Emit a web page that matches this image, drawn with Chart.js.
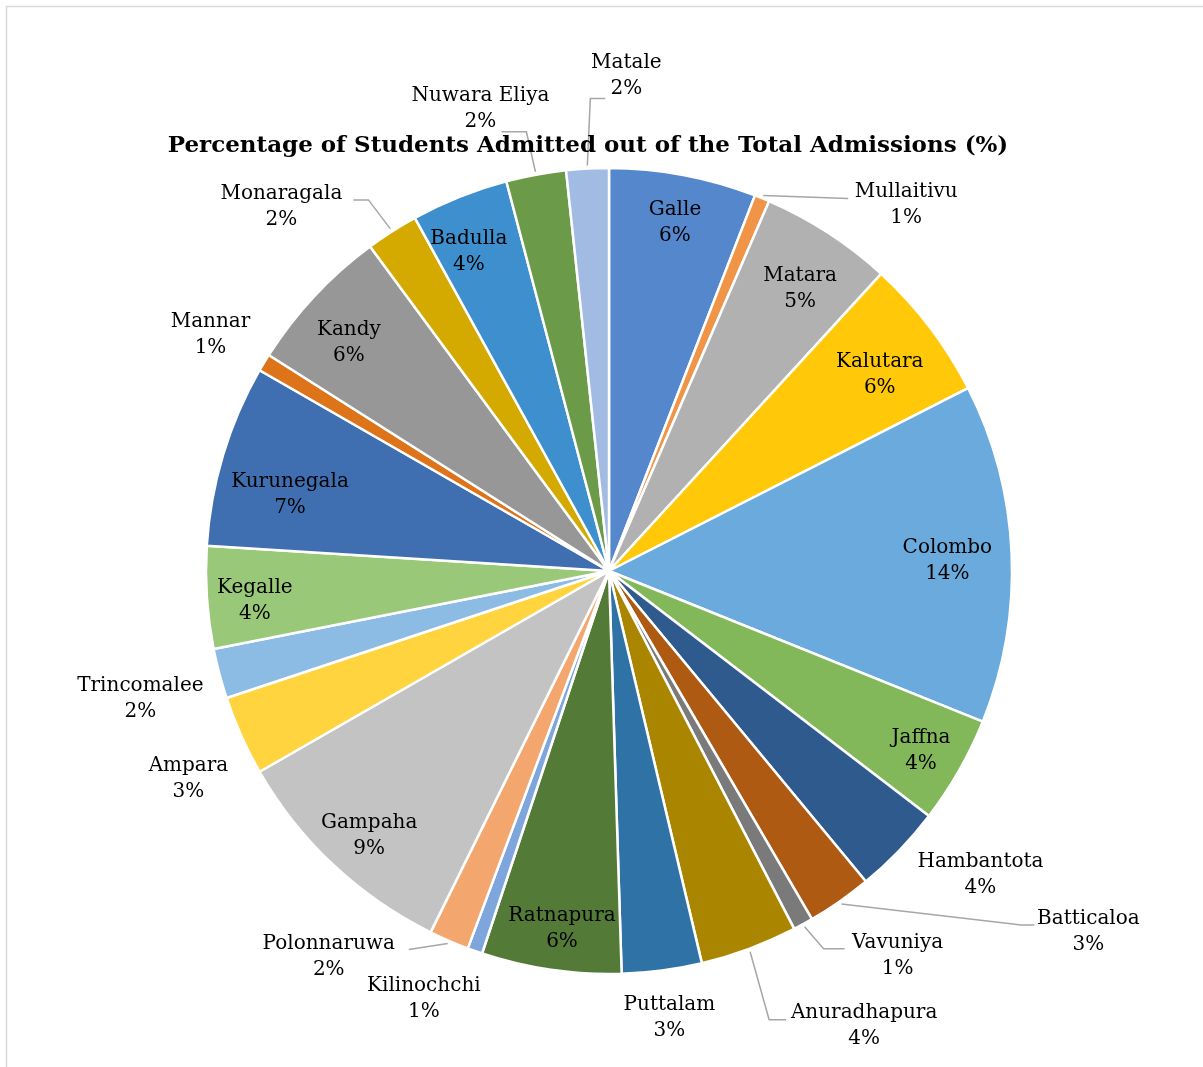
<!DOCTYPE html>
<html>
<head>
<meta charset="utf-8">
<title>Percentage of Students Admitted</title>
<script src="https://cdn.jsdelivr.net/npm/chart.js@4.4.1/dist/chart.umd.min.js"></script>
<style>
    html, body { margin: 0; padding: 0; background: #fff; }
    #wrap { width: 1203px; height: 1067px; position: relative; }
</style>
</head>
<body>
<div id="wrap"><canvas id="pie"></canvas></div>
<script>
// district names, clockwise from 12 o'clock
const districts = ['Galle', 'Mullaitivu', 'Matara', 'Kalutara', 'Colombo', 'Jaffna', 'Hambantota',
    'Batticaloa', 'Vavuniya', 'Anuradhapura', 'Puttalam', 'Ratnapura', 'Kilinochchi', 'Polonnaruwa',
    'Gampaha', 'Ampara', 'Trincomalee', 'Kegalle', 'Kurunegala', 'Mannar', 'Kandy', 'Monaragala',
    'Badulla', 'Nuwara Eliya', 'Matale']

// share of total admissions (%)
const shares = [5.9, 0.6, 5.3, 5.7, 13.6, 4.3, 3.6,
    2.6, 0.8, 3.9, 3.2, 5.6, 0.6, 1.6,
    9.4, 3.2, 2.0, 4.1, 7.3, 0.7, 5.9, 2.1,
    3.9, 2.4, 1.7]

const chartTitle = 'Percentage of Students Admitted out of the Total Admissions (%)'

const sliceColors = ['#5587CD', '#F09447', '#B1B1B1', '#FFC90A', '#6AAADC', '#82B85A', '#2F5A8E',
    '#AE5A12', '#7A7A7A', '#AA8600', '#2E72A6', '#537A37', '#7EA5DC', '#F3A76F',
    '#C3C3C3', '#FFD43E', '#8CBCE4', '#9AC879', '#3F6FB0', '#DE7419', '#979797', '#D4AA00',
    '#3D90CD', '#6B9A48', '#A1BBE2']

// label placement: inside ones by radius fraction + angle nudge (deg),
// outside ones by offset from the slice's outer edge, with optional leader line
const labelLayout = {
    'Galle':        { r: 0.88, da: 0.1 },
    'Matara':       { r: 0.845, da: 1.2 },
    'Kalutara':     { r: 0.83, da: 1.3 },
    'Colombo':      { r: 0.84, da: 0.8 },
    'Jaffna':       { r: 0.894, da: 0.3 },
    'Ratnapura':    { r: 0.896, da: -0.8 },
    'Gampaha':      { r: 0.886, da: -1.0 },
    'Kegalle':      { r: 0.882, da: -1.1 },
    'Kurunegala':   { r: 0.814, da: -3.25 },
    'Kandy':        { r: 0.858, da: -1.8 },
    'Badulla':      { r: 0.866, da: -1.9 },
    'Mullaitivu':   { dx: 143, dy: 9, line: [[-58, -6]] },
    'Hambantota':   { dx: 79, dy: 22 },
    'Batticaloa':   { dx: 247, dy: 28, line: [[-67, -7], [-54, -7]] },
    'Vavuniya':     { dx: 93, dy: 29, line: [[-74, -7], [-53, -7]] },
    'Anuradhapura': { dx: 114, dy: 74, line: [[-95, -6], [-78, -6]] },
    'Puttalam':     { dx: 7, dy: 44 },
    'Kilinochchi':  { dx: -50, dy: 45 },
    'Polonnaruwa':  { dx: -119, dy: 13, line: [[80, -7]] },
    'Ampara':       { dx: -50, dy: 42 },
    'Trincomalee':  { dx: -76, dy: 24 },
    'Mannar':       { dx: -51, dy: -26 },
    'Monaragala':   { dx: -109, dy: -22, line: [[87, -7], [72, -7]] },
    'Nuwara Eliya': { dx: -55, dy: -63, line: [[46, 23], [21, 23]] },
    'Matale':       { dx: 39, dy: -90, line: [[-36, 23], [-21, 23]] }
}

const labelFont = '20px "DejaVu Serif"'
const titleFont = 'bold 23px "DejaVu Serif"'

// frame + data labels + title, drawn by hand like Excel does
const pieDecor = {
    id: 'pieDecor',
    beforeDraw(chart) {
        const ctx = chart.ctx
        ctx.save()
        ctx.strokeStyle = '#D9D9D9'
        ctx.lineWidth = 1.5
        ctx.strokeRect(6.5, 6.5, 1400, 1400)
        ctx.restore()
    },
    afterDatasetsDraw(chart) {
        const ctx = chart.ctx
        const meta = chart.getDatasetMeta(0)
        const total = shares.reduce((a, b) => a + b, 0)
        ctx.save()
        ctx.font = labelFont
        ctx.textAlign = 'center'
        ctx.textBaseline = 'middle'
        meta.data.forEach((arc, i) => {
            const p = arc.getProps(['x', 'y', 'startAngle', 'endAngle', 'outerRadius'], true)
            const mid = (p.startAngle + p.endAngle) / 2
            const name = districts[i]
            const pct = Math.round(shares[i] / total * 100) + '%'
            const lay = labelLayout[name]
            let cx, cy
            if (lay.r !== undefined) {
                const a = mid + lay.da * Math.PI / 180
                cx = p.x + Math.cos(a) * p.outerRadius * lay.r
                cy = p.y + Math.sin(a) * p.outerRadius * lay.r
            } else {
                const ex = p.x + Math.cos(mid) * (p.outerRadius + 3)
                const ey = p.y + Math.sin(mid) * (p.outerRadius + 3)
                cx = ex + lay.dx
                cy = ey + lay.dy
                if (lay.line) {
                    ctx.beginPath()
                    ctx.strokeStyle = '#A6A6A6'
                    ctx.lineWidth = 1.5
                    ctx.moveTo(ex, ey)
                    lay.line.forEach(pt => ctx.lineTo(cx + pt[0], cy + pt[1]))
                    ctx.stroke()
                }
            }
            ctx.fillStyle = '#000'
            ctx.fillText(name, cx, cy - 13)
            ctx.fillText(pct, cx, cy + 13)
        })
        // title sits over the top labels
        ctx.font = titleFont
        ctx.fillText(chartTitle, 588, 146)
        ctx.restore()
    }
}

new Chart(document.getElementById('pie'), {
    type: 'pie',
    data: {
        labels: districts,
        datasets: [{
            data: shares,
            backgroundColor: sliceColors,
            borderColor: '#fff',
            borderWidth: 2.5
        }]
    },
    options: {
        responsive: true,
        maintainAspectRatio: false,
        animation: false,
        radius: 403,
        layout: { padding: { left: 200, right: 185, top: 150, bottom: 75 } },
        plugins: {
            legend: { display: false },
            tooltip: { enabled: false },
            title: { display: false }
        }
    },
    plugins: [pieDecor]
})
</script>
</body>
</html>
